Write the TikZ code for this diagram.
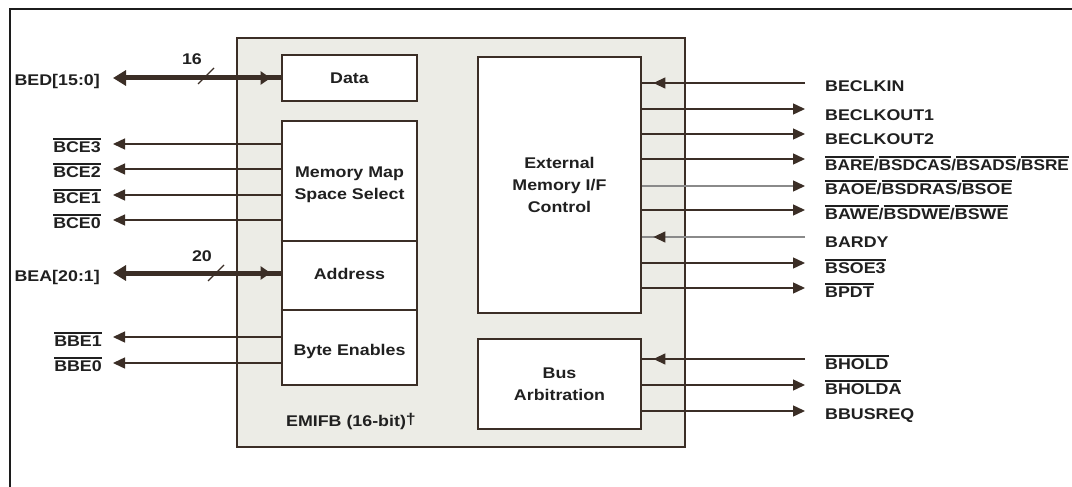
\documentclass[tikz,border=0pt]{standalone}
\usepackage{graphicx}
\usepackage{fontspec}
\setmainfont{Liberation Sans}[FakeStretch=1.15]
\usetikzlibrary{arrows.meta,decorations.markings}

\definecolor{ink}{HTML}{3B2E26}
\definecolor{panel}{HTML}{ECECE6}
\definecolor{txt}{HTML}{202020}
\definecolor{faint}{HTML}{8A8A8A}
\definecolor{frame}{HTML}{1C1C1C}

% active-low signal name: a bar over the name
\newcommand\lowsig[1]{\vbox{\hrule height 1.3pt\kern 1.6pt\hbox{#1}}}

\tikzset{
  sigtip/.tip={Triangle[length=12pt,width=11pt,color=ink]},
  bustip/.tip={Triangle[length=13pt,width=15pt,color=ink]},
  lbl/.style={font=\fontsize{15.5}{22}\selectfont\bfseries, text=txt, inner sep=0pt, align=center},
  blk/.style={draw=ink, line width=2.8pt, fill=white, inner sep=0pt},
  sig/.style={draw=ink, line width=1.4pt},
  sigfaint/.style={draw=faint, line width=1.4pt},
  bus/.style={draw=ink, line width=5pt},
  slash/.style={draw=ink, line width=1.4pt},
  inmark/.style={postaction={decorate},
    decoration={markings, mark=at position -11pt with {\arrow{sigtip}}}},
  busmark/.style={postaction={decorate},
    decoration={markings, mark=at position -10pt with {\arrow{Triangle[length=10pt,width=13pt,color=ink]}}}},
}

\begin{document}
\begin{tikzpicture}[x=1pt,y=-1pt]
\useasboundingbox (0,0) rectangle (1072,487);

% page frame (left and top edges)
\draw[frame, line width=2.6pt] (10,487) -- (10,9) -- (1072,9);

% EMIFB panel and its blocks
\node[draw=ink, line width=2.8pt, fill=panel, minimum width=448pt, minimum height=409pt, inner sep=0pt] (emif) at (461,242.5) {};
\node[blk, lbl, minimum width=135pt, minimum height=46pt] (data) at (349.5,78) {Data};
\node[blk, minimum width=135pt, minimum height=264pt] (mem) at (349.5,253) {};
\draw[ink, line width=1.4pt] (mem.west |- 0,241) -- (mem.east |- 0,241);
\draw[ink, line width=1.4pt] (mem.west |- 0,310) -- (mem.east |- 0,310);
\node[lbl] (mmsel) at (349.5,185) {Memory Map\\Space Select};
\node[lbl, anchor=base] (addr) at (349.5,279) {Address};
\node[lbl, anchor=base] (byten) at (349.5,355) {Byte Enables};
\node[blk, lbl, minimum width=163pt, minimum height=256pt] (ext) at (559.5,185) {External\\Memory I/F\\Control};
\node[blk, lbl, minimum width=163pt, minimum height=90pt] (arb) at (559.5,384) {Bus\\Arbitration};
\node[lbl, anchor=base] (title) at (351,426) {EMIFB (16-bit)\raisebox{2pt}{†}};

% left side: data bus
\coordinate (lbed) at (113,78);
\draw[bus, {bustip}-, busmark] (lbed) -- (data.west);
\draw[slash] (198,84) -- (214,68);
\node[lbl] (w16) at (192,59) {16};
\node[lbl, anchor=base east] (bed) at (100,86) {BED[15:0]};

% left side: chip enables
\coordinate (lbce3) at (113,144);
\coordinate (lbce2) at (113,169);
\coordinate (lbce1) at (113,195);
\coordinate (lbce0) at (113,220);
\draw[sig, -{sigtip}] (mem.west |- lbce3) -- (lbce3);
\draw[sig, -{sigtip}] (mem.west |- lbce2) -- (lbce2);
\draw[sig, -{sigtip}] (mem.west |- lbce1) -- (lbce1);
\draw[sig, -{sigtip}] (mem.west |- lbce0) -- (lbce0);
\node[lbl, anchor=base east] (bce3) at (101,152) {\lowsig{BCE3}};
\node[lbl, anchor=base east] (bce2) at (101,177) {\lowsig{BCE2}};
\node[lbl, anchor=base east] (bce1) at (101,203) {\lowsig{BCE1}};
\node[lbl, anchor=base east] (bce0) at (101,228) {\lowsig{BCE0}};

% left side: address bus
\coordinate (lbea) at (113,273);
\draw[bus, {bustip}-, busmark] (lbea) -- (mem.west |- lbea);
\draw[slash] (208,281) -- (224,265);
\node[lbl] (w20) at (202,256) {20};
\node[lbl, anchor=base east] (bea) at (100,281) {BEA[20:1]};

% left side: byte enables
\coordinate (lbbe1) at (113,337);
\coordinate (lbbe0) at (113,363);
\draw[sig, -{sigtip}] (mem.west |- lbbe1) -- (lbbe1);
\draw[sig, -{sigtip}] (mem.west |- lbbe0) -- (lbbe0);
\node[lbl, anchor=base east] (bbe1) at (102,346) {\lowsig{BBE1}};
\node[lbl, anchor=base east] (bbe0) at (102,371) {\lowsig{BBE0}};

% right side: memory interface control signals
\coordinate (rclkin) at (805,83);
\coordinate (rclko1) at (805,109);
\coordinate (rclko2) at (805,134);
\coordinate (rare) at (805,159);
\coordinate (raoe) at (805,186);
\coordinate (rawe) at (805,210);
\coordinate (rrdy) at (805,237);
\coordinate (rsoe) at (805,263);
\coordinate (rpdt) at (805,288);
\draw[sig, inmark] (rclkin) -- (ext.east |- rclkin);
\draw[sig, -{sigtip}] (ext.east |- rclko1) -- (rclko1);
\draw[sig, -{sigtip}] (ext.east |- rclko2) -- (rclko2);
\draw[sig, -{sigtip}] (ext.east |- rare) -- (rare);
\draw[sigfaint, -{sigtip}] (ext.east |- raoe) -- (raoe);
\draw[sig, -{sigtip}] (ext.east |- rawe) -- (rawe);
\draw[sigfaint, inmark] (rrdy) -- (ext.east |- rrdy);
\draw[sig, -{sigtip}] (ext.east |- rsoe) -- (rsoe);
\draw[sig, -{sigtip}] (ext.east |- rpdt) -- (rpdt);
\node[lbl, anchor=base west] (clkin) at (825,92) {BECLKIN};
\node[lbl, anchor=base west] (clko1) at (825,121) {BECLKOUT1};
\node[lbl, anchor=base west] (clko2) at (825,144) {BECLKOUT2};
\node[lbl, anchor=base west] (are) at (825,170) {\scalebox{0.965}[1]{\lowsig{BARE}/\lowsig{BSDCAS}/\lowsig{BSADS}/\lowsig{BSRE}}};
\node[lbl, anchor=base west] (aoe) at (825,194) {\lowsig{BAOE}/\lowsig{BSDRAS}/\lowsig{BSOE}};
\node[lbl, anchor=base west] (awe) at (825,219) {\lowsig{BAWE}/\lowsig{BSDWE}/\lowsig{BSWE}};
\node[lbl, anchor=base west] (rdy) at (825,247) {BARDY};
\node[lbl, anchor=base west] (soe) at (825,273) {\lowsig{BSOE3}};
\node[lbl, anchor=base west] (pdt) at (825,297) {\lowsig{BPDT}};

% right side: bus arbitration signals
\coordinate (rhold) at (805,359);
\coordinate (rholda) at (805,385);
\coordinate (rbreq) at (805,411);
\draw[sig, inmark] (rhold) -- (arb.east |- rhold);
\draw[sig, -{sigtip}] (arb.east |- rholda) -- (rholda);
\draw[sig, -{sigtip}] (arb.east |- rbreq) -- (rbreq);
\node[lbl, anchor=base west] (hold) at (825,369) {\lowsig{BHOLD}};
\node[lbl, anchor=base west] (holda) at (825,394) {\lowsig{BHOLDA}};
\node[lbl, anchor=base west] (breq) at (825,419) {BBUSREQ};
\end{tikzpicture}
\end{document}
